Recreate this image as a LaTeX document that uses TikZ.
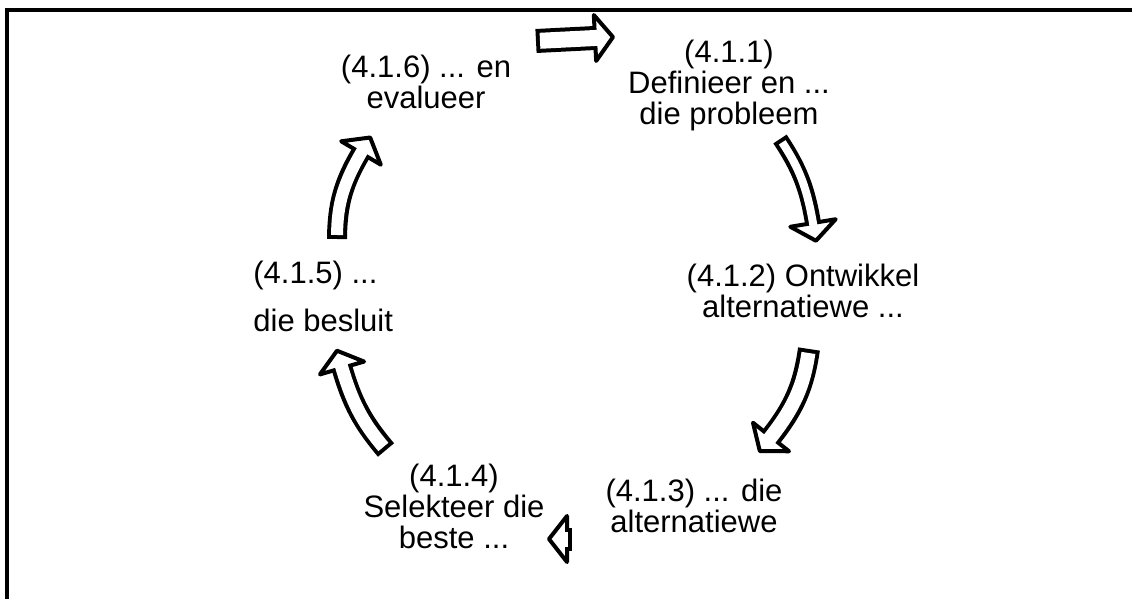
\documentclass[tikz,border=0pt]{standalone}
\usepackage{fontspec}
\setmainfont{Liberation Sans}
\usetikzlibrary{decorations.markings}

\tikzset{
	schritt/.style={align=center, inner sep=0pt, font=\fontsize{15.5pt}{15.5pt}\selectfont},
	blockpfeil/.style={
		draw=black, line width=#1*0.5pt+2pt,
		preaction={decorate, decoration={markings, mark=at position 1 with {
			\filldraw[line width=2pt, fill=white, line join=round] (0,-23) -- (18,0) -- (0,23) -- cycle;}}},
		postaction={draw=white, line width=#1*0.5pt-2pt, shorten <=2pt, shorten >=-2pt}
	}
}

\begin{document}
\begin{tikzpicture}[x=0.5pt, y=-0.5pt]
	\useasboundingbox (0,0) rectangle (1132,599);
	% Rahmen
	\draw[line width=2pt] (7,599) |- (1132,10);
	% Schritte
	\node[schritt] (definieer) at (729,85) {(4.1.1)\\Definieer en ...\\die probleem};
	\node[schritt] (ontwikkel) at (803,291) {(4.1.2) Ontwikkel\\alternatiewe ...};
	\node[schritt] (alternatiewe) at (694,506) {(4.1.3) ... die\\alternatiewe};
	\node[schritt] (selekteer) at (454,506) {(4.1.4)\\Selekteer die\\beste ...};
	\node[schritt, align=left, anchor=west] (besluit) at (253,296) {(4.1.5) ...\\[8.5pt]die besluit};
	\node[schritt] (evalueer) at (426,82) {(4.1.6) ... en\\evalueer};
	% Pfeile
	\coordinate (p1a) at (536,41);
	\coordinate (p1b) at (595,38);
	\coordinate (p2a) at (780,139);
	\coordinate (p2b) at (813,223);
	\coordinate (p3a) at (809,349);
	\coordinate (p3b) at (771,437);
	\coordinate (p4a) at (572,539);
	\coordinate (p4b) at (567,539);
	\coordinate (p5a) at (386,450);
	\coordinate (p5b) at (342,368);
	\coordinate (p6a) at (337,239);
	\coordinate (p6b) at (361,153);
	\draw[blockpfeil=20] (p1a) -- (p1b);
	\draw[blockpfeil=12] (p2a) to[bend left=12] (p2b);
	\draw[blockpfeil=18] (p3a) to[bend left=15] (p3b);
	\draw[blockpfeil=19] (p4a) -- (p4b);
	\draw[blockpfeil=17] (p5a) to[bend left=12] (p5b);
	\draw[blockpfeil=16] (p6a) to[bend left=15] (p6b);
\end{tikzpicture}
\end{document}
